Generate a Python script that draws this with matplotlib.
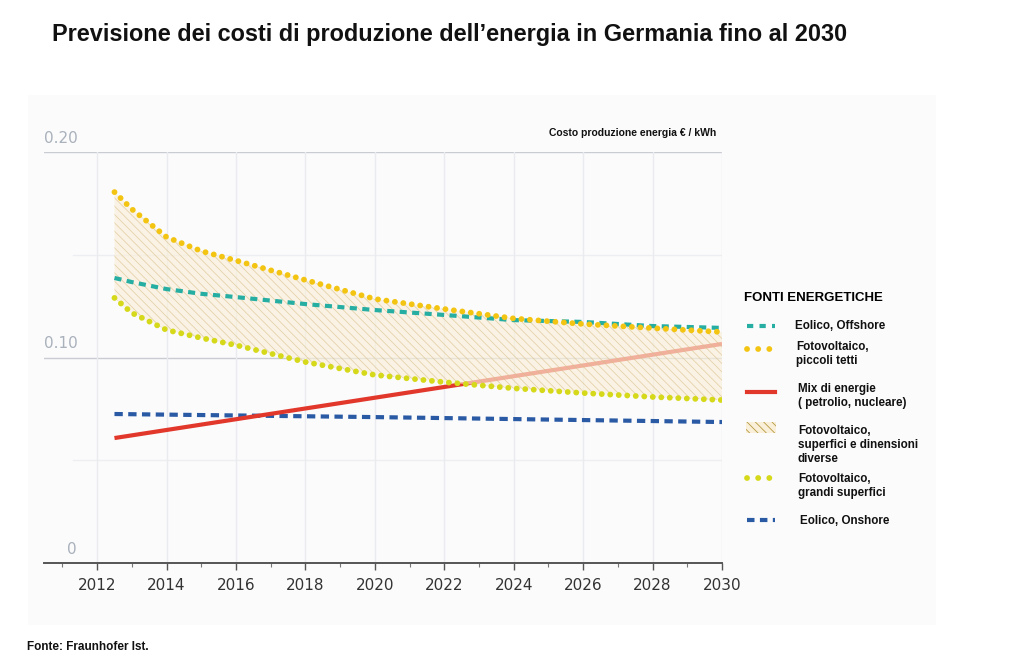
import matplotlib
matplotlib.use("Agg")
import matplotlib.pyplot as plt
from matplotlib.patches import Rectangle
from matplotlib.lines import Line2D

# data (EUR / kWh)
anni = [2012.5, 2013, 2014, 2015, 2016, 2018, 2020, 2022, 2024, 2026, 2028, 2030]
fv_piccoli_tetti = [0.1805, 0.1722, 0.1586, 0.1518, 0.1472, 0.1377, 0.1285, 0.1236, 0.1190, 0.1163, 0.1143, 0.1124]
fv_grandi_superfici = [0.1290, 0.1217, 0.1134, 0.1095, 0.1060, 0.0978, 0.0915, 0.0880, 0.0850, 0.0827, 0.0808, 0.0793]
eolico_offshore = [0.1387, 0.1367, 0.1333, 0.1310, 0.1294, 0.1260, 0.1231, 0.1207, 0.1182, 0.1173, 0.1153, 0.1144]

anni_mix = [2012.5, 2030]
mix_energie = [0.0608, 0.1066]

anni_onshore = [2012.5, 2020, 2030]
eolico_onshore = [0.0725, 0.0710, 0.0686]

x_ticks = list(range(2012, 2031, 2))
y_labels = {0.20: "0.20", 0.10: "0.10", 0.0: "0"}

col_offshore = "#27aea3"
col_piccoli = "#f3c512"
col_grandi = "#d6d91a"
col_mix = "#e2382c"
col_onshore = "#2b5aa5"
col_hatch = "#d8bf8c"
col_fill = "#faf0d9"

dot_style = (0, (0.01, 1.45))

plt.rcParams["hatch.linewidth"] = 0.6
plt.rcParams["font.family"] = ["Liberation Sans", "DejaVu Sans"]

fig = plt.figure(figsize=(10.24, 6.72), dpi=100)
fig.patch.set_facecolor("white")

# pixel-space layer: background panel and legend
lg = fig.add_axes([0, 0, 1, 1], zorder=0)
lg.set_xlim(0, 1024)
lg.set_ylim(672, 0)
lg.axis("off")
lg.add_patch(Rectangle((28, 95), 908, 530, facecolor="#fbfbfc", edgecolor="none", zorder=0))

ax = fig.add_axes([44 / 1024, (672 - 563) / 672, (722 - 44) / 1024, (563 - 152) / 672], zorder=1)
ax.set_facecolor("none")
ax.set_xlim(2010.47, 2030)
ax.set_ylim(0, 0.20)

# grid
for yv in [0.10, 0.20]:
    ax.axhline(yv, color="#c9cdd3", lw=1.0, zorder=1)
for yv in [0.05, 0.15]:
    ax.axhline(yv, xmin=(2011.3 - 2010.47) / (2030 - 2010.47), color="#eceef1", lw=1.0, zorder=1)
for xv in x_ticks:
    ax.axvline(xv, color="#e9ebee", lw=1.0, zorder=1)

# lines
ax.plot(anni_onshore, eolico_onshore, color=col_onshore, lw=3.0,
        linestyle=(0, (2.0, 1.3)), zorder=3)
ax.plot(anni_mix, mix_energie, color=col_mix, lw=3.0, zorder=3, solid_capstyle="butt")

ax.fill_between(anni, fv_grandi_superfici, fv_piccoli_tetti, facecolor=col_fill,
                edgecolor=col_hatch, hatch="\\\\\\\\", linewidth=0, alpha=0.65, zorder=4)

ax.plot(anni, fv_grandi_superfici, color=col_grandi, lw=4.2,
        linestyle=dot_style, dash_capstyle="round", zorder=5)
ax.plot(anni, eolico_offshore, color=col_offshore, lw=3.0,
        linestyle=(0, (1.7, 1.3)), zorder=5)
ax.plot(anni, fv_piccoli_tetti, color=col_piccoli, lw=4.2,
        linestyle=dot_style, dash_capstyle="round", zorder=6)

# axes styling
for s in ["top", "right", "left"]:
    ax.spines[s].set_visible(False)
ax.spines["bottom"].set_color("#555555")
ax.spines["bottom"].set_linewidth(1.4)
ax.set_yticks([])
ax.set_xticks(x_ticks)
ax.set_xticks(range(2011, 2030, 2), minor=True)
ax.tick_params(axis="x", which="major", length=5, width=1, color="#555555",
               labelsize=11, labelcolor="#333333", pad=6)
ax.tick_params(axis="x", which="minor", length=3, width=0.8, color="#777777")
for lab in ax.get_xticklabels():
    lab.set_family("DejaVu Sans")

for yv, txt in y_labels.items():
    ax.text(0.0 if yv > 0 else 0.048, yv + 0.003, txt, transform=ax.get_yaxis_transform(),
            ha="left" if yv > 0 else "right", va="bottom", fontsize=11,
            color="#a9b1bb", family="DejaVu Sans")

ax.text(0.992, 1.035, "Costo produzione energia € / kWh", transform=ax.transAxes,
        ha="right", va="bottom", fontsize=7.5, fontweight="bold", color="#111111")

# titles
fig.text(52 / 1024, 1 - 35 / 672, "Previsione dei costi di produzione dell\u2019energia in Germania fino al 2030",
         ha="left", va="center", fontsize=16.9, fontweight="bold", color="#111111")
fig.text(27 / 1024, 1 - 647 / 672, "Fonte: Fraunhofer Ist.", ha="left", va="center",
         fontsize=8.5, fontweight="bold", color="#111111")

# legend
lg.text(744, 298, "FONTI ENERGETICHE", fontsize=9.5, fontweight="bold", va="center", ha="left")

hx = [747, 775]
lg.add_line(Line2D(hx, [326, 326], color=col_offshore, lw=3.0, linestyle=(0, (1.5, 1.5))))
lg.add_line(Line2D(hx, [349, 349], color=col_piccoli, lw=4.2, linestyle=(0, (0.01, 1.9)),
                   dash_capstyle="round"))
lg.add_line(Line2D(hx, [392, 392], color=col_mix, lw=3.0))
lg.add_patch(Rectangle((746, 422), 30, 11, facecolor=col_fill, edgecolor="#b59a40",
                       hatch="\\\\\\\\", linewidth=0))
lg.add_line(Line2D(hx, [478, 478], color=col_grandi, lw=4.2, linestyle=(0, (0.01, 1.9)),
                   dash_capstyle="round"))
lg.add_line(Line2D(hx, [520, 520], color=col_onshore, lw=3.0, linestyle=(0, (1.8, 1.3))))

voci = [
    (795, 326, "Eolico, Offshore"),
    (796, 354, "Fotovoltaico,\npiccoli tetti"),
    (798, 396, "Mix di energie\n( petrolio, nucleare)"),
    (798, 445, "Fotovoltaico,\nsuperfici e dinensioni\ndiverse"),
    (798, 486, "Fotovoltaico,\ngrandi superfici"),
    (800, 521, "Eolico, Onshore"),
]
for x, y, t in voci:
    lg.text(x, y, t, fontsize=8.4, fontweight="bold", va="center", ha="left",
            linespacing=1.2, color="#111111")

fig.savefig("out.png", dpi=100)
